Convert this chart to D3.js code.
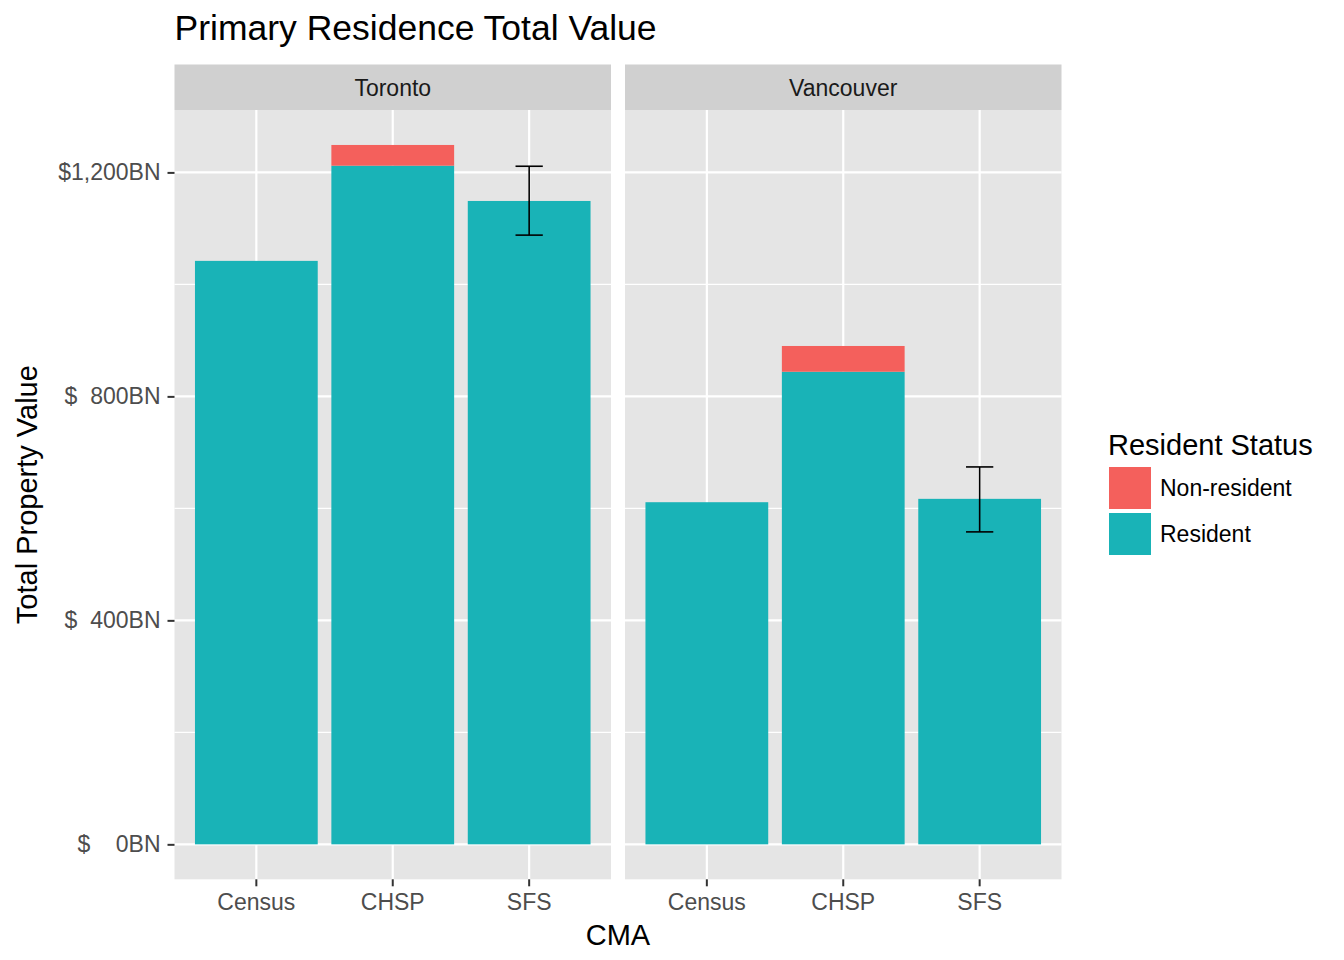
<!DOCTYPE html>
<html>
<head>
<meta charset="utf-8">
<script src="https://cdn.jsdelivr.net/npm/d3@7"></script>
<style>
  body { margin: 0; background: #fff; }
  text { font-family: "Liberation Sans", Arial, Helvetica, sans-serif; }
</style>
</head>
<body>
<svg id="chart" width="1344" height="960"></svg>
<script>
// facets, sources and values (billions of dollars)
const cmas = ['Toronto', 'Vancouver'];
const sources = ['Census', 'CHSP', 'SFS'];
const statuses = ['Non-resident', 'Resident'];
const residentValues = [[1042, 1212, 1149], [611, 844, 617]];
const nonResidentValues = [[0, 37, 0], [0, 46, 0]];
const sfsLow = [1088, 558];
const sfsHigh = [1211, 674];
const yTicks = [0, 400, 800, 1200];
const yTickLabels = ['$    0BN', '$  400BN', '$  800BN', '$1,200BN'];
const yMinor = [200, 600, 1000];
const colors = { 'Non-resident': '#f4605c', 'Resident': '#19b3b7' };

const svg = d3.select('#chart');
svg.append('rect').attr('width', 1344).attr('height', 960).attr('fill', '#fff');

const panelW = 436.5, panelGap = 14, left = 174.5;
const stripTop = 64.5, plotTop = 110, plotBottom = 879.3;

// ggplot style 5% expansion
const maxVal = d3.max(cmas.flatMap((c, i) =>
  sources.map((s, j) => Math.max(residentValues[i][j] + nonResidentValues[i][j], j == 2 ? sfsHigh[i] : 0))));
const y = d3.scaleLinear().domain([-0.05 * maxVal, maxVal * 1.05]).range([plotBottom, plotTop]);
const x = d3.scaleBand().domain(sources).range([0, panelW]).paddingInner(0.1).paddingOuter(0.15);

cmas.forEach((cma, i) => {
  const g = svg.append('g').attr('transform', `translate(${left + i * (panelW + panelGap)},0)`);

  g.append('rect').attr('x', 0).attr('y', plotTop).attr('width', panelW)
    .attr('height', plotBottom - plotTop).attr('fill', '#e5e5e5');

  // strip
  g.append('rect').attr('x', 0).attr('y', stripTop).attr('width', panelW)
    .attr('height', plotTop - stripTop).attr('fill', '#d0d0d0');
  g.append('text').attr('x', panelW / 2).attr('y', (stripTop + plotTop) / 2)
    .attr('dy', '0.36em').attr('text-anchor', 'middle').attr('font-size', 23)
    .attr('fill', '#1a1a1a').text(cma);

  // grid
  g.selectAll('.minor').data(yMinor).enter().append('line')
    .attr('x1', 0).attr('x2', panelW).attr('y1', d => y(d)).attr('y2', d => y(d))
    .attr('stroke', '#fff').attr('stroke-width', 1.1);
  g.selectAll('.major').data(yTicks).enter().append('line')
    .attr('x1', 0).attr('x2', panelW).attr('y1', d => y(d)).attr('y2', d => y(d))
    .attr('stroke', '#fff').attr('stroke-width', 2.2);
  g.selectAll('.vgrid').data(sources).enter().append('line')
    .attr('x1', d => x(d) + x.bandwidth() / 2).attr('x2', d => x(d) + x.bandwidth() / 2)
    .attr('y1', plotTop).attr('y2', plotBottom)
    .attr('stroke', '#fff').attr('stroke-width', 2.2);

  // stacked bars: resident at bottom, non-resident on top
  const rows = sources.map((s, j) => ({ source: s, res: residentValues[i][j], non: nonResidentValues[i][j] }));
  g.selectAll('.res').data(rows).enter().append('rect')
    .attr('x', d => x(d.source)).attr('width', x.bandwidth())
    .attr('y', d => y(d.res)).attr('height', d => y(0) - y(d.res))
    .attr('fill', colors['Resident']);
  g.selectAll('.non').data(rows.filter(d => d.non > 0)).enter().append('rect')
    .attr('x', d => x(d.source)).attr('width', x.bandwidth())
    .attr('y', d => y(d.res + d.non)).attr('height', d => y(d.res) - y(d.res + d.non))
    .attr('fill', colors['Non-resident']);

  // error bar on SFS
  const cx = x('SFS') + x.bandwidth() / 2, hw = x.step() * 0.1;
  const eb = g.append('g').attr('stroke', '#000').attr('stroke-width', 1.6);
  eb.append('line').attr('x1', cx).attr('x2', cx).attr('y1', y(sfsLow[i])).attr('y2', y(sfsHigh[i]));
  [sfsLow[i], sfsHigh[i]].forEach(v => {
    eb.append('line').attr('x1', cx - hw).attr('x2', cx + hw).attr('y1', y(v)).attr('y2', y(v));
  });

  // x axis
  const xa = g.append('g').attr('transform', `translate(0,${plotBottom})`)
    .call(d3.axisBottom(x).tickSize(7).tickPadding(7));
  xa.select('.domain').remove();
  xa.selectAll('line').attr('stroke', '#333').attr('stroke-width', 2);
  xa.selectAll('text').attr('font-size', 23).attr('fill', '#4d4d4d')
    .attr('font-family', '"Liberation Sans", Arial, sans-serif');
});

// y axis
const ya = svg.append('g').attr('transform', `translate(${left},0)`)
  .call(d3.axisLeft(y).tickValues(yTicks).tickFormat((d, k) => yTickLabels[k]).tickSize(7).tickPadding(7));
ya.select('.domain').remove();
ya.selectAll('line').attr('stroke', '#333').attr('stroke-width', 2);
ya.selectAll('text').attr('font-size', 23).attr('fill', '#4d4d4d')
  .attr('font-family', '"Liberation Sans", Arial, sans-serif')
  .style('white-space', 'pre');

// titles
svg.append('text').attr('x', 174.5).attr('y', 39.5).attr('font-size', 35.5)
  .attr('fill', '#000').text('Primary Residence Total Value');
svg.append('text').attr('x', left + panelW + panelGap / 2).attr('y', 945)
  .attr('text-anchor', 'middle').attr('font-size', 29).attr('fill', '#000').text('CMA');
svg.append('text').attr('transform', `translate(37,${(plotTop + plotBottom) / 2}) rotate(-90)`)
  .attr('text-anchor', 'middle').attr('font-size', 29).attr('fill', '#000').text('Total Property Value');

// legend
const lg = svg.append('g');
lg.append('text').attr('x', 1108).attr('y', 455).attr('font-size', 29).attr('fill', '#000').text('Resident Status');
statuses.forEach((s, k) => {
  const ky = 467 + k * 46;
  lg.append('rect').attr('x', 1109).attr('y', ky).attr('width', 42).attr('height', 42).attr('fill', colors[s]);
  lg.append('text').attr('x', 1160).attr('y', ky + 21).attr('dy', '0.36em')
    .attr('font-size', 23).attr('fill', '#000').text(s);
});
</script>
</body>
</html>
